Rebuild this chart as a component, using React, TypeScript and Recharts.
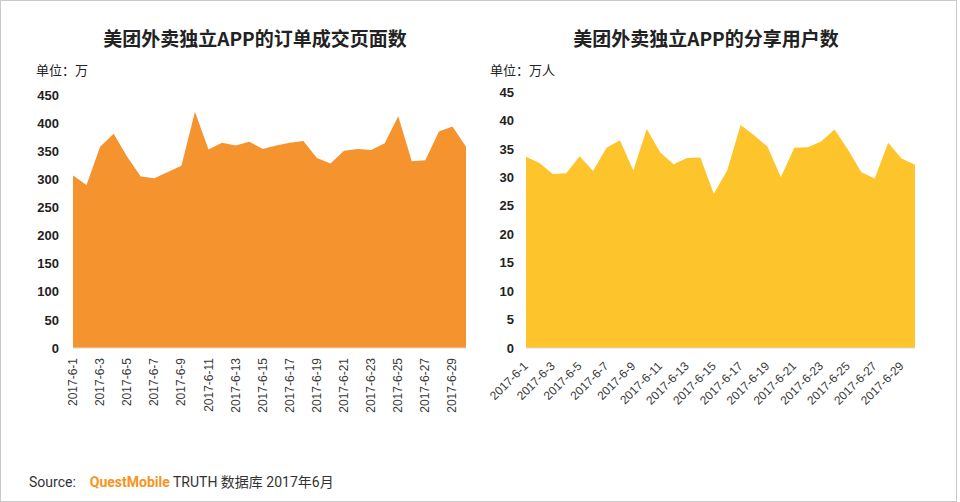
import { AreaChart, Area, XAxis, YAxis } from "recharts";

const days = [
  "2017-6-1", "2017-6-2", "2017-6-3", "2017-6-4", "2017-6-5", "2017-6-6",
  "2017-6-7", "2017-6-8", "2017-6-9", "2017-6-10", "2017-6-11", "2017-6-12",
  "2017-6-13", "2017-6-14", "2017-6-15", "2017-6-16", "2017-6-17", "2017-6-18",
  "2017-6-19", "2017-6-20", "2017-6-21", "2017-6-22", "2017-6-23", "2017-6-24",
  "2017-6-25", "2017-6-26", "2017-6-27", "2017-6-28", "2017-6-29", "2017-6-30",
];

// 订单成交页面数（万）
const orderPages = [
  307, 290, 358, 381, 340, 305, 302, 313, 324, 420,
  353, 365, 360, 367, 354, 360, 365, 368, 338, 328,
  351, 354, 352, 364, 412, 332, 334, 385, 394, 358,
];

// 分享用户数（万人）
const shareUsers = [
  33.6, 32.5, 30.6, 30.7, 33.7, 31.1, 35.2, 36.5, 31.2, 38.5,
  34.4, 32.3, 33.4, 33.5, 27.1, 31.2, 39.2, 37.4, 35.4, 30.0,
  35.2, 35.3, 36.3, 38.4, 34.9, 30.9, 29.8, 36.1, 33.3, 32.2,
];

const leftTicks = [0, 50, 100, 150, 200, 250, 300, 350, 400, 450];
const rightTicks = [0, 5, 10, 15, 20, 25, 30, 35, 40, 45];

const leftData = days.map((d, i) => ({ day: d, value: orderPages[i] }));
const rightData = days.map((d, i) => ({ day: d, value: shareUsers[i] }));

const tickFont = '"Liberation Sans", Arial, sans-serif';

function VerticalTick(props: any) {
  const { x, y, payload } = props;
  return (
    <text
      x={x}
      y={y + 2}
      transform={`rotate(-90 ${x} ${y + 2})`}
      textAnchor="end"
      dominantBaseline="central"
      fontSize={12}
      fontFamily={tickFont}
      fill="#3a3a3a"
    >
      {payload.value}
    </text>
  );
}

function SlantTick(props: any) {
  const { x, y, payload } = props;
  const ty = y + 8;
  return (
    <text
      x={x}
      y={ty}
      transform={`rotate(-45 ${x} ${ty})`}
      textAnchor="end"
      dominantBaseline="central"
      fontSize={12}
      fontFamily={tickFont}
      fill="#3a3a3a"
    >
      {payload.value}
    </text>
  );
}

const yTick = {
  fontSize: 13,
  fontWeight: 700,
  fill: "#222",
  fontFamily: tickFont,
};

const titleStyle: React.CSSProperties = {
  position: "absolute",
  top: 22,
  fontSize: 19,
  fontWeight: 700,
  color: "#222",
  fontFamily: '"Noto Sans CJK SC", sans-serif',
  lineHeight: "30px",
  whiteSpace: "nowrap",
  transform: "translateX(-50%)",
};

const unitStyle: React.CSSProperties = {
  position: "absolute",
  top: 60,
  fontSize: 13,
  color: "#222",
  fontFamily: '"Noto Sans CJK SC", sans-serif',
  lineHeight: "18px",
  whiteSpace: "nowrap",
};

export default function App() {
  return (
    <div
      style={{
        position: "fixed",
        left: 0,
        top: 0,
        width: 957,
        height: 502,
        boxSizing: "border-box",
        border: "1px solid #c9c9c9",
        background: "#fff",
        overflow: "hidden",
      }}
    >
      <div style={{ ...titleStyle, left: 254 }}>美团外卖独立APP的订单成交页面数</div>
      <div style={{ ...titleStyle, left: 705 }}>美团外卖独立APP的分享用户数</div>
      <div style={{ ...unitStyle, left: 35 }}>单位：万</div>
      <div style={{ ...unitStyle, left: 489 }}>单位：万人</div>

      <div style={{ position: "absolute", left: -1, top: 79 }}>
        <AreaChart
          width={476}
          height={348}
          data={leftData}
          margin={{ top: 15, right: 10, left: 13, bottom: 0 }}
        >
          <XAxis
            dataKey="day"
            interval={1}
            height={80}
            tickLine={false}
            axisLine={{ stroke: "#d9d9d9" }}
            tick={<VerticalTick />}
          />
          <YAxis
            width={60}
            domain={[0, 450]}
            ticks={leftTicks}
            interval={0}
            axisLine={false}
            tickLine={false}
            tickMargin={8}
            tick={yTick}
          />
          <Area
            type="linear"
            dataKey="value"
            stroke="none"
            fill="#F5932F"
            fillOpacity={1}
            isAnimationActive={false}
          />
        </AreaChart>
      </div>

      <div style={{ position: "absolute", left: 439, top: 79 }}>
        <AreaChart
          width={485}
          height={348}
          data={rightData}
          margin={{ top: 12, right: 10, left: 26, bottom: 0 }}
        >
          <XAxis
            dataKey="day"
            interval={1}
            height={80}
            tickLine={false}
            axisLine={{ stroke: "#d9d9d9" }}
            tick={<SlantTick />}
          />
          <YAxis
            width={60}
            domain={[0, 45]}
            ticks={rightTicks}
            interval={0}
            axisLine={false}
            tickLine={false}
            tickMargin={6}
            tick={yTick}
          />
          <Area
            type="linear"
            dataKey="value"
            stroke="none"
            fill="#FDC42C"
            fillOpacity={1}
            isAnimationActive={false}
          />
        </AreaChart>
      </div>

      <div
        style={{
          position: "absolute",
          left: 28,
          top: 471,
          fontSize: 14,
          lineHeight: "20px",
          color: "#333",
          fontFamily: 'Roboto, "Noto Sans CJK SC", sans-serif',
          whiteSpace: "nowrap",
        }}
      >
        Source:
        <span style={{ display: "inline-block", width: 14 }} />
        <span style={{ color: "#F7941D", fontWeight: 700 }}>QuestMobile</span> TRUTH 数据库 2017年6月
      </div>
    </div>
  );
}
